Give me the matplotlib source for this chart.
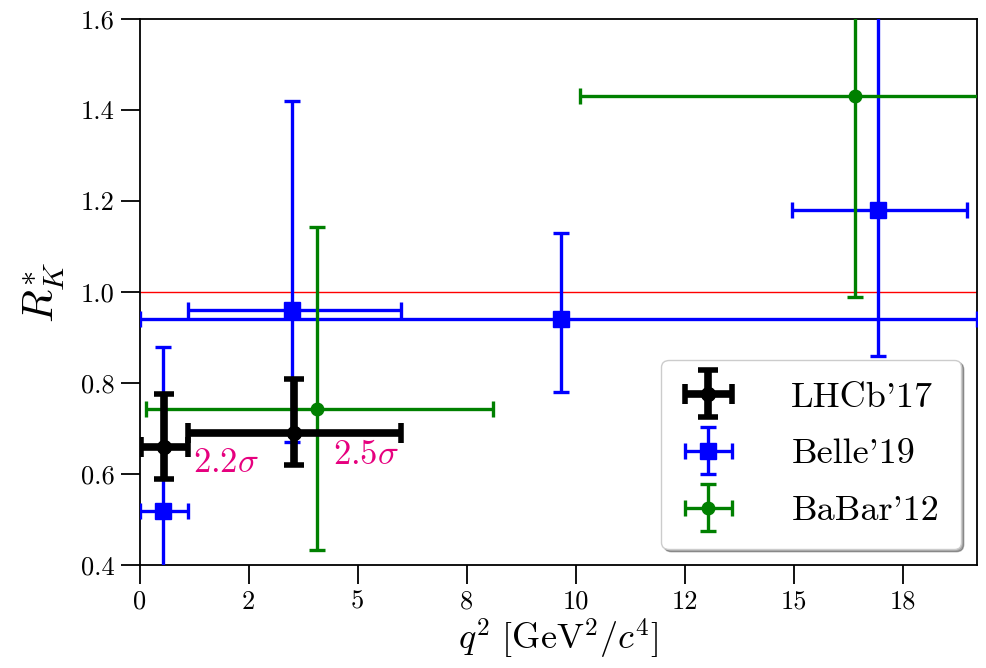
import matplotlib
matplotlib.use("Agg")
import numpy as np
import matplotlib.pyplot as plt
from matplotlib.ticker import FixedLocator, FormatStrFormatter
from matplotlib.container import ErrorbarContainer
from matplotlib.legend_handler import HandlerErrorbar

plt.rcParams["font.family"] = "serif"
plt.rcParams["font.serif"] = ["cmr10", "DejaVu Serif"]
plt.rcParams["mathtext.fontset"] = "cm"
plt.rcParams["axes.unicode_minus"] = False
plt.rcParams["axes.formatter.use_mathtext"] = True

# --- data ---
# LHCb'17
lhcb_q2 = np.array([0.57, 3.55])
lhcb_q2_lo = np.array([0.045, 1.1])
lhcb_q2_hi = np.array([1.1, 6.0])
lhcb_r = np.array([0.66, 0.69])
lhcb_r_dn = np.array([0.07, 0.07])
lhcb_r_up = np.array([0.115, 0.12])

# Belle'19
belle_q2 = np.array([0.54, 3.5, 9.67, 16.93])
belle_q2_lo = np.array([0.0, 1.1, 0.0, 14.96])
belle_q2_hi = np.array([1.1, 6.0, 19.2, 18.97])
belle_r = np.array([0.52, 0.96, 0.94, 1.18])
belle_r_dn = np.array([0.26, 0.29, 0.16, 0.32])
belle_r_up = np.array([0.36, 0.46, 0.19, 0.52])

# BaBar'12
babar_q2 = np.array([4.07, 16.4])
babar_q2_lo = np.array([0.15, 10.1])
babar_q2_hi = np.array([8.1, 20.5])
babar_r = np.array([0.743, 1.43])
babar_r_dn = np.array([0.31, 0.44])
babar_r_up = np.array([0.40, 0.65])

sigma_labels = [r"$2.2\sigma$", r"$2.5\sigma$"]
sigma_x = [1.23, 4.44]
sigma_y = [0.624, 0.642]

fig = plt.figure(figsize=(9.86, 6.68), dpi=100)
ax = fig.add_axes([0.1415, 0.154, 0.8495, 0.8176])

# SM expectation
ax.axhline(1.0, color="red", lw=1.0, zorder=1)

ax.errorbar(belle_q2, belle_r,
            xerr=[belle_q2 - belle_q2_lo, belle_q2_hi - belle_q2],
            yerr=[belle_r_dn, belle_r_up],
            fmt="s", color="blue", ms=11, lw=2.4, capsize=6, capthick=2.4,
            label="Belle'19", zorder=3)
ax.errorbar(babar_q2, babar_r,
            xerr=[babar_q2 - babar_q2_lo, babar_q2_hi - babar_q2],
            yerr=[babar_r_dn, babar_r_up],
            fmt="o", color="green", ms=9, lw=2.4, capsize=6, capthick=2.4,
            label="BaBar'12", zorder=4)
ax.errorbar(lhcb_q2, lhcb_r,
            xerr=[lhcb_q2 - lhcb_q2_lo, lhcb_q2_hi - lhcb_q2],
            yerr=[lhcb_r_dn, lhcb_r_up],
            fmt="o", color="black", ms=10, lw=5.5, capsize=7, capthick=4,
            label="LHCb'17", zorder=5)

for lab, x, y in zip(sigma_labels, sigma_x, sigma_y):
    ax.text(x, y, lab, color="#e6007e", fontsize=25, va="center", ha="left")

ax.set_xlim(0, 19.2)
ax.set_ylim(0.4, 1.6)
ax.xaxis.set_major_locator(FixedLocator([0, 2.5, 5, 7.5, 10, 12.5, 15, 17.5]))
ax.xaxis.set_major_formatter(FormatStrFormatter("%.0f"))
ax.set_yticks([0.4, 0.6, 0.8, 1.0, 1.2, 1.4, 1.6])
ax.yaxis.set_major_formatter(FormatStrFormatter("%.1f"))
ax.tick_params(direction="out", length=14, width=1.3, labelsize=19, pad=4)
ax.tick_params(top=False, right=False)
for s in ax.spines.values():
    s.set_linewidth(1.3)

ax.set_xlabel(r"$q^2\ [\mathrm{GeV}^2/c^4]$", fontsize=26, labelpad=2)
ax.set_ylabel(r"$R_K^{*}$", fontsize=31, labelpad=10)

# legend order: LHCb, Belle, BaBar
handles, labels = ax.get_legend_handles_labels()
order = [labels.index("LHCb'17"), labels.index("Belle'19"), labels.index("BaBar'12")]
ax.legend([handles[i] for i in order], [labels[i] for i in order],
          loc="lower right", fontsize=26, fancybox=True, shadow=True,
          framealpha=1, edgecolor="#cccccc", borderpad=0.6,
          handlelength=1.4, handletextpad=1.6, labelspacing=0.68,
          borderaxespad=0.45,
          handler_map={ErrorbarContainer: HandlerErrorbar(xerr_size=0.65)})

fig.savefig("out.png", dpi=100)
